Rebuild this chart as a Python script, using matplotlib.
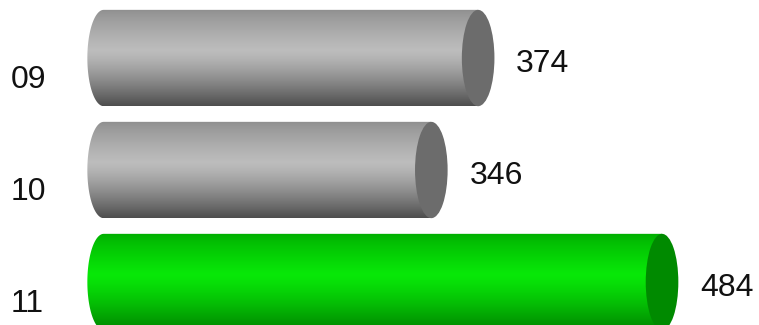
import numpy as np
import matplotlib.pyplot as plt
from matplotlib.path import Path
from matplotlib.patches import PathPatch, Ellipse

# data
years = ['09', '10', '11']
values = [374, 346, 484]
base = 150

# colours: (top, light, bottom, cap)
gray = ['#8e8e8e', '#bdbdbd', '#4e4e4e', '#6c6c6c']
green = ['#00ad00', '#08e808', '#008600', '#008a00']
styles = [gray, gray, green]

bar_h = 0.86     # bar height in category units
cap_w = 19.5     # cap ellipse width in value units


def hex2rgb(h):
    h = h.lstrip('#')
    return np.array([int(h[i:i + 2], 16) / 255 for i in (0, 2, 4)])


def gradient(top, light, bottom, n=200):
    s = np.linspace(0, 1, n)
    t, l, b = hex2rgb(top), hex2rgb(light), hex2rgb(bottom)
    img = np.zeros((n, 1, 3))
    k = 0.42
    for i, v in enumerate(s):
        if v < k:
            f = (v / k) ** 0.8
            img[i, 0] = t + (l - t) * f
        else:
            f = ((v - k) / (1 - k)) ** 1.3
            img[i, 0] = l + (b - l) * f
    return img


fig = plt.figure(figsize=(7.59, 3.25), dpi=100)
ax = fig.add_axes([0, 0, 1, 1])
ax.set_xlim(88, 542)
ax.set_ylim(2.384, -0.518)
ax.axis('off')

for i, (lab, val, st) in enumerate(zip(years, values, styles)):
    y0 = i - bar_h / 2
    y1 = i + bar_h / 2
    rx = cap_w / 2
    # body outline: left half ellipse + rectangle
    th = np.linspace(np.pi / 2, 3 * np.pi / 2, 60)
    xs = base + rx * np.cos(th)
    ys = i - (bar_h / 2) * np.sin(th)
    verts = [(val, y0)] + [(base, y0)] + list(zip(xs, ys)) + [(base, y1), (val, y1), (val, y0)]
    codes = [Path.MOVETO] + [Path.LINETO] * (len(verts) - 2) + [Path.CLOSEPOLY]
    patch = PathPatch(Path(verts, codes), facecolor='none', edgecolor='none')
    ax.add_patch(patch)
    im = ax.imshow(gradient(st[0], st[1], st[2]), extent=(base - rx, val, y1, y0),
                   origin='upper', aspect='auto', interpolation='bilinear', zorder=2)
    im.set_clip_path(patch)
    # right cap
    ax.add_patch(Ellipse((val, i), cap_w, bar_h, facecolor=st[3], edgecolor='none', zorder=3))

    ax.annotate(lab, (0, i + 0.2), xycoords=('axes fraction', 'data'), xytext=(11, 0),
                textcoords='offset pixels', fontsize=23, ha='left', va='center',
                family='Liberation Sans', color='#111111')
    ax.annotate(str(val), (val, i + 0.05), xytext=(38, 0), textcoords='offset pixels',
                fontsize=23, ha='left', va='center', family='Liberation Sans', color='#111111')

fig.savefig('out.png', dpi=100)
